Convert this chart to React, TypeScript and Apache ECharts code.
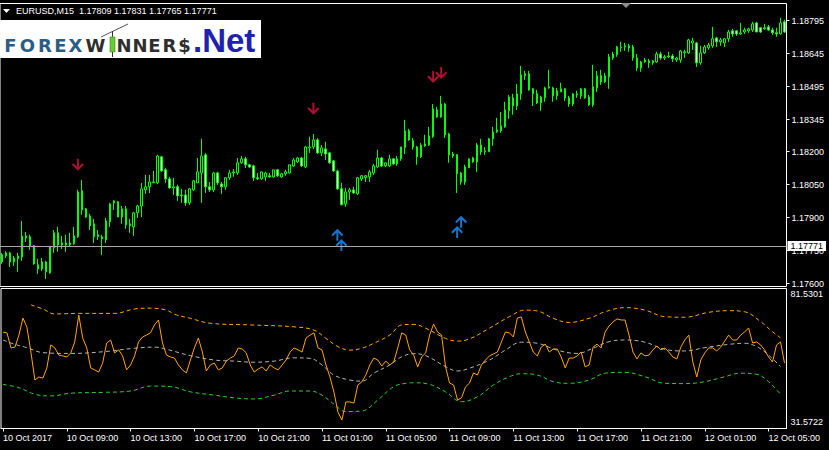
import React, { useEffect, useRef } from 'react';
import * as echarts from 'echarts';

const symbolTitle = 'EURUSD,M15';
const headerOHLC = '1.17809 1.17831 1.17765 1.17771';
const currentPrice = 1.17771;

const xTickLabels = [
  '10 Oct 2017', '10 Oct 09:00', '10 Oct 13:00', '10 Oct 17:00', '10 Oct 21:00',
  '11 Oct 01:00', '11 Oct 05:00', '11 Oct 09:00', '11 Oct 13:00', '11 Oct 17:00',
  '11 Oct 21:00', '12 Oct 01:00', '12 Oct 05:00',
];
const priceTickValues = [1.176, 1.1775, 1.179, 1.1805, 1.182, 1.18345, 1.18495, 1.18645, 1.18795];
const oscTopLabel = 81.5301;
const oscBottomLabel = 31.5722;

const openPrices = [
  1.17731,1.17726,1.17740,1.17699,1.17713,1.17722,1.17808,1.17813,1.17772,1.17686,
  1.17667,1.17699,1.17649,1.17763,1.17831,1.17776,1.17785,1.17776,1.17781,1.17813,
  1.18022,1.17940,1.17908,1.17872,1.17813,1.17813,1.17799,1.17881,1.17967,1.17972,
  1.17903,1.17940,1.17863,1.17858,1.17922,1.17953,1.18026,1.18040,1.18058,1.18058,
  1.18176,1.18117,1.18076,1.18035,1.18040,1.17999,1.18003,1.17967,1.18026,1.18058,
  1.18103,1.18185,1.18040,1.18026,1.18103,1.18053,1.18040,1.18081,1.18103,1.18103,
  1.18149,1.18167,1.18140,1.18135,1.18081,1.18076,1.18085,1.18090,1.18085,1.18117,
  1.18085,1.18099,1.18103,1.18135,1.18153,1.18171,1.18130,1.18217,1.18221,1.18253,
  1.18194,1.18212,1.18194,1.18158,1.18112,1.18031,1.17962,1.18017,1.18026,1.18008,
  1.18076,1.18081,1.18085,1.18103,1.18130,1.18171,1.18135,1.18135,1.18167,1.18144,
  1.18167,1.18217,1.18294,1.18249,1.18221,1.18176,1.18226,1.18230,1.18267,1.18389,
  1.18357,1.18416,1.18280,1.18189,1.18185,1.18103,1.18062,1.18126,1.18171,1.18153,
  1.18230,1.18199,1.18199,1.18258,1.18289,1.18294,1.18312,1.18385,1.18444,1.18407,
  1.18462,1.18544,1.18553,1.18485,1.18462,1.18421,1.18444,1.18489,1.18489,1.18453,
  1.18471,1.18485,1.18416,1.18416,1.18457,1.18453,1.18485,1.18448,1.18412,1.18489,
  1.18544,1.18516,1.18539,1.18625,1.18639,1.18671,1.18675,1.18680,1.18675,1.18625,
  1.18580,1.18607,1.18612,1.18603,1.18607,1.18643,1.18625,1.18630,1.18634,1.18616,
  1.18616,1.18648,1.18648,1.18693,1.18693,1.18603,1.18648,1.18671,1.18680,1.18716,
  1.18698,1.18693,1.18712,1.18748,1.18748,1.18734,1.18743,1.18748,1.18752,1.18784,
  1.18762,1.18757,1.18766,1.18752,1.18739,1.18734,1.18789,
];
const closePrices = [
  1.17699,1.17740,1.17699,1.17717,1.17726,1.17817,1.17817,1.17772,1.17690,1.17667,
  1.17699,1.17654,1.17767,1.17831,1.17776,1.17785,1.17776,1.17785,1.17817,1.18017,
  1.17935,1.17903,1.17863,1.17813,1.17822,1.17804,1.17885,1.17962,1.17976,1.17903,
  1.17940,1.17867,1.17872,1.17922,1.17953,1.18031,1.18040,1.18062,1.18062,1.18180,
  1.18112,1.18076,1.18035,1.18040,1.17999,1.18003,1.17967,1.18031,1.18067,1.18108,
  1.18180,1.18040,1.18026,1.18103,1.18058,1.18040,1.18081,1.18103,1.18108,1.18149,
  1.18167,1.18140,1.18130,1.18081,1.18076,1.18108,1.18103,1.18085,1.18117,1.18090,
  1.18099,1.18108,1.18140,1.18162,1.18171,1.18135,1.18221,1.18221,1.18253,1.18194,
  1.18217,1.18189,1.18149,1.18112,1.18031,1.17958,1.18017,1.18026,1.18012,1.18081,
  1.18090,1.18090,1.18108,1.18135,1.18171,1.18135,1.18149,1.18167,1.18144,1.18167,
  1.18221,1.18294,1.18253,1.18221,1.18176,1.18230,1.18235,1.18271,1.18394,1.18357,
  1.18416,1.18276,1.18185,1.18180,1.18099,1.18062,1.18130,1.18167,1.18153,1.18230,
  1.18199,1.18203,1.18258,1.18289,1.18298,1.18317,1.18389,1.18448,1.18407,1.18462,
  1.18548,1.18553,1.18480,1.18462,1.18421,1.18448,1.18489,1.18494,1.18453,1.18476,
  1.18485,1.18444,1.18444,1.18462,1.18462,1.18485,1.18444,1.18412,1.18494,1.18544,
  1.18516,1.18544,1.18630,1.18643,1.18675,1.18675,1.18680,1.18671,1.18625,1.18580,
  1.18607,1.18616,1.18603,1.18612,1.18643,1.18625,1.18630,1.18634,1.18621,1.18625,
  1.18657,1.18653,1.18707,1.18702,1.18603,1.18648,1.18675,1.18684,1.18712,1.18698,
  1.18707,1.18712,1.18743,1.18734,1.18734,1.18739,1.18752,1.18757,1.18780,1.18743,
  1.18743,1.18762,1.18752,1.18739,1.18734,1.18784,1.18743,
];
const highPrices = [
  1.17740,1.17749,1.17745,1.17726,1.17740,1.17885,1.17835,1.17822,1.17776,1.17713,
  1.17717,1.17704,1.17772,1.17844,1.17858,1.17817,1.17822,1.17831,1.17858,1.18026,
  1.18071,1.17944,1.17917,1.17894,1.17844,1.17822,1.17899,1.17967,1.17981,1.17976,
  1.17953,1.17953,1.17894,1.17926,1.17958,1.18058,1.18094,1.18094,1.18112,1.18185,
  1.18180,1.18126,1.18085,1.18081,1.18049,1.18031,1.18026,1.18035,1.18071,1.18171,
  1.18258,1.18194,1.18062,1.18108,1.18108,1.18062,1.18085,1.18117,1.18121,1.18171,
  1.18180,1.18176,1.18144,1.18140,1.18103,1.18108,1.18108,1.18103,1.18117,1.18121,
  1.18103,1.18117,1.18140,1.18171,1.18176,1.18176,1.18226,1.18267,1.18280,1.18262,
  1.18230,1.18244,1.18199,1.18162,1.18117,1.18058,1.18035,1.18035,1.18040,1.18085,
  1.18094,1.18094,1.18117,1.18144,1.18208,1.18176,1.18149,1.18185,1.18171,1.18180,
  1.18221,1.18344,1.18303,1.18262,1.18226,1.18239,1.18276,1.18312,1.18416,1.18403,
  1.18453,1.18421,1.18285,1.18199,1.18189,1.18108,1.18140,1.18171,1.18176,1.18239,
  1.18258,1.18221,1.18262,1.18312,1.18353,1.18380,1.18426,1.18457,1.18462,1.18507,
  1.18589,1.18566,1.18566,1.18489,1.18480,1.18453,1.18494,1.18571,1.18494,1.18489,
  1.18512,1.18489,1.18453,1.18466,1.18476,1.18489,1.18489,1.18457,1.18594,1.18566,
  1.18571,1.18557,1.18643,1.18653,1.18680,1.18698,1.18693,1.18689,1.18684,1.18643,
  1.18612,1.18625,1.18621,1.18616,1.18653,1.18653,1.18639,1.18653,1.18643,1.18630,
  1.18662,1.18662,1.18712,1.18716,1.18698,1.18680,1.18684,1.18693,1.18766,1.18721,
  1.18716,1.18716,1.18752,1.18757,1.18752,1.18784,1.18762,1.18762,1.18789,1.18789,
  1.18766,1.18780,1.18775,1.18762,1.18762,1.18807,1.18798,
];
const lowPrices = [
  1.17690,1.17717,1.17676,1.17681,1.17654,1.17704,1.17790,1.17754,1.17686,1.17645,
  1.17658,1.17622,1.17645,1.17740,1.17745,1.17758,1.17745,1.17767,1.17776,1.17808,
  1.17913,1.17899,1.17844,1.17785,1.17799,1.17731,1.17785,1.17858,1.17935,1.17903,
  1.17872,1.17849,1.17831,1.17817,1.17899,1.17903,1.18008,1.18012,1.18058,1.18053,
  1.18108,1.18058,1.18031,1.18003,1.17976,1.17967,1.17953,1.17958,1.18022,1.18058,
  1.17967,1.18012,1.18017,1.18017,1.18049,1.18008,1.18026,1.18071,1.18085,1.18094,
  1.18144,1.18126,1.18126,1.18067,1.18071,1.18071,1.18067,1.18081,1.18081,1.18085,
  1.18081,1.18090,1.18099,1.18130,1.18149,1.18130,1.18126,1.18194,1.18212,1.18189,
  1.18180,1.18162,1.18144,1.18108,1.18026,1.17958,1.17949,1.17981,1.18008,1.18003,
  1.18067,1.18062,1.18062,1.18094,1.18126,1.18130,1.18130,1.18130,1.18140,1.18135,
  1.18158,1.18189,1.18249,1.18208,1.18140,1.18171,1.18221,1.18226,1.18262,1.18353,
  1.18353,1.18262,1.18149,1.18171,1.18012,1.18049,1.18049,1.18126,1.18149,1.18108,
  1.18185,1.18185,1.18199,1.18226,1.18285,1.18285,1.18308,1.18348,1.18367,1.18389,
  1.18435,1.18525,1.18476,1.18407,1.18416,1.18385,1.18426,1.18485,1.18426,1.18435,
  1.18471,1.18430,1.18403,1.18407,1.18444,1.18439,1.18439,1.18407,1.18403,1.18471,
  1.18503,1.18512,1.18485,1.18616,1.18630,1.18653,1.18657,1.18653,1.18612,1.18566,
  1.18562,1.18603,1.18580,1.18594,1.18603,1.18616,1.18616,1.18625,1.18607,1.18607,
  1.18603,1.18625,1.18643,1.18662,1.18584,1.18594,1.18643,1.18662,1.18671,1.18675,
  1.18680,1.18675,1.18698,1.18721,1.18725,1.18730,1.18734,1.18739,1.18743,1.18743,
  1.18739,1.18752,1.18748,1.18730,1.18721,1.18730,1.18739,
];

const oscValues = [
  66.2,65.9,60.4,60.7,65.1,71.3,68.0,58.9,48.7,49.8,
  49.4,53.1,61.5,60.4,57.8,57.5,57.1,58.6,62.6,72.4,
  64.0,60.4,53.1,52.4,51.6,54.9,62.2,63.3,58.6,59.7,
  57.5,52.4,54.2,57.5,62.6,64.4,65.1,65.9,68.8,70.6,
  62.2,57.8,57.1,56.7,54.2,52.4,51.3,56.0,60.4,64.0,
  58.9,52.0,54.2,54.9,52.4,53.1,55.6,56.7,57.5,60.4,
  60.0,58.6,54.2,51.6,52.7,53.5,52.0,54.2,53.1,52.4,
  54.2,56.0,58.9,60.4,59.7,58.9,64.0,65.1,65.9,60.4,
  59.7,54.2,49.8,44.3,37.0,34.1,40.7,40.7,40.3,46.9,
  48.0,50.5,54.2,56.7,56.0,53.8,55.6,54.2,55.3,60.4,
  65.9,65.1,59.7,57.8,53.5,57.1,58.6,65.1,69.1,66.2,
  65.1,53.5,47.6,46.9,41.4,42.2,46.2,47.6,51.3,50.5,
  54.2,56.0,57.5,58.2,58.9,62.6,66.2,65.9,64.4,71.3,
  71.7,66.2,62.6,58.9,57.5,60.7,61.8,58.9,60.0,60.0,
  57.1,53.1,56.7,56.7,57.5,58.9,53.5,54.2,60.7,61.8,
  60.4,66.2,68.4,69.9,71.0,70.6,70.6,65.1,58.9,56.4,
  58.6,57.5,57.8,59.7,61.1,59.7,60.4,58.9,57.1,56.4,
  60.7,63.3,65.1,55.3,49.8,56.0,58.6,60.4,60.4,59.3,
  60.7,62.9,65.1,63.3,63.3,65.1,66.2,67.7,62.2,62.6,
  61.5,59.7,57.1,55.3,61.5,62.6,54.9,
];

const upperBand = [
  [7,76.1],[10,74.6],[13,72.8],[19,73.0],[28,73.0],[33,74.6],[37,74.9],[41,74.2],[43,72.7],
  [47,71.2],[52,69.4],[62,68.8],[73,68.1],[78,66.9],[81,63.9],[84,60.9],[87,59.6],[90,60.3],
  [93,62.1],[97,65.1],[100,68.8],[103,69.0],[106,67.6],[111,63.9],[114,62.9],[117,63.7],
  [122,67.6],[127,71.8],[131,74.2],[134,73.9],[138,71.2],[142,69.7],[147,71.2],[151,73.6],
  [156,75.1],[161,74.2],[166,71.8],[171,71.6],[177,73.4],[182,74.0],[186,73.6],[190,70.0],
  [193,66.3],[195,64.1],
];
const middleBand = [
  [0,63.3],[3,61.7],[6,60.5],[10,58.7],[17,58.4],[25,59.0],[33,60.3],[38,60.7],[41,59.9],
  [47,57.6],[53,56.0],[58,55.6],[63,55.2],[68,55.6],[73,56.8],[77,56.6],[80,54.2],[83,50.5],
  [87,48.7],[90,48.3],[93,51.2],[97,54.2],[100,57.2],[103,58.3],[106,57.6],[111,53.6],
  [114,52.0],[117,53.0],[122,56.0],[126,59.6],[130,62.5],[134,62.1],[139,59.6],[144,58.4],
  [148,60.3],[152,62.7],[156,63.3],[161,62.5],[166,59.9],[171,59.3],[176,60.5],[182,61.7],
  [186,62.1],[189,60.9],[192,57.8],[195,53.6],
];
const lowerBand = [
  [0,47.1],[4,45.9],[8,43.5],[12,42.9],[17,43.9],[25,44.2],[32,44.7],[37,46.5],[42,46.3],
  [47,44.4],[53,43.2],[58,42.2],[63,41.8],[68,43.2],[72,44.7],[77,44.7],[80,43.2],[83,39.9],
  [86,37.2],[90,37.4],[94,41.4],[98,46.3],[101,47.5],[103,47.7],[107,47.1],[111,44.4],
  [115,40.8],[119,42.6],[123,46.9],[127,49.9],[130,51.0],[134,50.5],[138,48.1],[142,47.5],
  [147,48.7],[151,51.2],[156,51.5],[161,49.9],[166,47.5],[171,47.4],[176,48.1],[181,49.9],
  [185,51.2],[189,50.8],[192,48.1],[195,43.5],
];

const sellArrows = [[19, 1.18140], [78, 1.18394], [108, 1.18539], [110, 1.18557]];
const buyArrows = [[84, 1.17822], [85, 1.17776], [114, 1.17835], [115, 1.17881]];

// logo letters: [character, centre x, colour]
const logoLetters: [string, number, string][] = [
  ['F', 10.5, '#2a5d86'], ['O', 27.5, '#2a5d86'], ['R', 45, '#2a5d86'], ['E', 60.5, '#2a5d86'], ['X', 75.5, '#2a5d86'],
  ['W', 95.5, '#2e2e2e'], ['N', 124, '#2e2e2e'], ['N', 140, '#2e2e2e'], ['E', 154.5, '#2e2e2e'],
  ['R', 169.5, '#2e2e2e'], ['$', 184.5, '#2e2e2e'],
];

const DOWN_ARROW = 'path://M5,0 L7,0 L7,8 L10.5,4.5 L12,6 L6,12 L0,6 L1.5,4.5 L5,8 Z';
const UP_ARROW = 'path://M5,12 L7,12 L7,4 L10.5,7.5 L12,6 L6,0 L0,6 L1.5,7.5 L5,4 Z';

const MONTHS = ['Jan','Feb','Mar','Apr','May','Jun','Jul','Aug','Sep','Oct','Nov','Dec'];

export default function App() {
  const ref = useRef<HTMLDivElement>(null);
  useEffect(() => {
    const chart = echarts.init(ref.current as HTMLDivElement, null, { renderer: 'svg' });
    const t0 = Date.UTC(2017, 9, 10, 5, 0);
    const categories = openPrices.map((_, i) => {
      const d = new Date(t0 + i * 15 * 60000);
      const hh = String(d.getUTCHours()).padStart(2, '0');
      const mm = String(d.getUTCMinutes()).padStart(2, '0');
      return `${d.getUTCDate()} ${MONTHS[d.getUTCMonth()]} ${hh}:${mm}`;
    });
    const candles = openPrices.map((o, i) => [o, closePrices[i], lowPrices[i], highPrices[i]]);
    const font = 'Liberation Sans';
    const gridLeft = -1.5;
    const gridWidth = 788;

    const logoChildren: any[] = [
      { type: 'rect', shape: { x: 0, y: 20, width: 261, height: 38 }, style: { fill: '#fff' } },
      ...logoLetters.map(([ch, cx, col]) => ({
        type: 'text', x: cx, y: 54,
        style: { text: ch, fill: col, fontSize: 18, fontWeight: 'bold', fontFamily: 'DejaVu Sans', align: 'center', verticalAlign: 'bottom' },
      })),
      { type: 'line', shape: { x1: 101, y1: 37, x2: 128, y2: 24 }, style: { stroke: '#555', lineWidth: 1 } },
      { type: 'line', shape: { x1: 112.5, y1: 31, x2: 112.5, y2: 57 }, style: { stroke: '#333', lineWidth: 1 } },
      { type: 'rect', shape: { x: 110, y: 37, width: 5, height: 15 }, style: { fill: '#66cc33', stroke: '#3a8a1a', lineWidth: 0.6 } },
      {
        type: 'text', x: 193, y: 57,
        style: { text: '.Net', fill: '#1f22b0', fontSize: 33, fontWeight: 'bold', fontFamily: font, verticalAlign: 'bottom' },
      },
    ];

    const option: any = {
      animation: false,
      backgroundColor: '#000',
      grid: [
        { left: gridLeft, width: gridWidth, top: 3.5, height: 283, show: true, borderColor: '#fff', borderWidth: 1 },
        { left: gridLeft, width: gridWidth, top: 288.5, height: 140, show: true, borderColor: '#fff', borderWidth: 1 },
      ],
      xAxis: [
        {
          type: 'category', gridIndex: 0, data: categories, boundaryGap: true,
          axisLine: { show: false }, axisTick: { show: false }, axisLabel: { show: false }, splitLine: { show: false },
        },
        {
          type: 'category', gridIndex: 1, data: categories, boundaryGap: true,
          axisLine: { show: true, lineStyle: { color: '#fff', width: 1 } },
          axisTick: { show: true, alignWithLabel: true, interval: 15, length: 3, lineStyle: { color: '#fff' } },
          axisLabel: {
            interval: 15, color: '#fff', fontSize: 9, fontFamily: font, align: 'left', margin: 5,
            formatter: (_v: string, idx: number) => (idx % 16 === 0 ? xTickLabels[idx / 16] ?? '' : ''),
          },
          splitLine: { show: false },
        },
      ],
      yAxis: [
        {
          type: 'value', gridIndex: 0, position: 'right', min: 1.175874, max: 1.188722,
          axisLine: { show: false }, splitLine: { show: false },
          axisTick: { show: true, customValues: priceTickValues, length: 3, lineStyle: { color: '#fff' } },
          axisLabel: {
            customValues: priceTickValues, color: '#fff', fontSize: 9, fontFamily: font, margin: 5,
            formatter: (v: number) => v.toFixed(5),
          },
        },
        {
          type: 'value', gridIndex: 1, position: 'right', min: 31.025, max: 82.077,
          axisLine: { show: false }, splitLine: { show: false }, axisTick: { show: false },
          axisLabel: {
            customValues: [oscTopLabel], color: '#fff', fontSize: 9, fontFamily: font, margin: 4,
            verticalAlign: 'top', formatter: (v: number) => v.toFixed(4),
          },
        },
        {
          type: 'value', gridIndex: 1, position: 'right', min: 31.025, max: 82.077,
          axisLine: { show: false }, splitLine: { show: false }, axisTick: { show: false },
          axisLabel: {
            customValues: [oscBottomLabel], color: '#fff', fontSize: 9, fontFamily: font, margin: 4,
            verticalAlign: 'bottom', formatter: (v: number) => v.toFixed(4),
          },
        },
      ],
      series: [
        {
          type: 'candlestick', xAxisIndex: 0, yAxisIndex: 0, data: candles, barWidth: 2,
          itemStyle: { color: '#000', color0: '#fff', borderColor: '#00ff00', borderColor0: '#00ff00', borderWidth: 1 },
        },
        {
          type: 'scatter', xAxisIndex: 0, yAxisIndex: 0, data: sellArrows, symbol: DOWN_ARROW,
          symbolSize: [12, 12], itemStyle: { color: '#dc143c' }, silent: true, z: 3,
          markLine: {
            silent: true, symbol: 'none', animation: false, precision: 5,
            lineStyle: { color: '#a8a8a8', width: 1, type: 'solid' },
            label: {
              show: true, position: 'end', distance: 1, formatter: currentPrice.toFixed(5),
              backgroundColor: '#fff', color: '#000', fontSize: 9, fontFamily: font, padding: [1, 3, 0, 3],
            },
            data: [{ yAxis: currentPrice }],
          },
        },
        {
          type: 'scatter', xAxisIndex: 0, yAxisIndex: 0, data: buyArrows, symbol: UP_ARROW,
          symbolSize: [12, 12], itemStyle: { color: '#1e90ff' }, silent: true, z: 3,
        },
        {
          type: 'line', xAxisIndex: 1, yAxisIndex: 1, data: upperBand, smooth: 0.4, showSymbol: false,
          lineStyle: { color: '#ffa500', width: 1, type: [4, 3] }, silent: true,
        },
        {
          type: 'line', xAxisIndex: 1, yAxisIndex: 1, data: middleBand, smooth: 0.4, showSymbol: false,
          lineStyle: { color: '#b4b4b4', width: 1, type: [4, 3] }, silent: true,
        },
        {
          type: 'line', xAxisIndex: 1, yAxisIndex: 1, data: lowerBand, smooth: 0.4, showSymbol: false,
          lineStyle: { color: '#32cd32', width: 1, type: [4, 3] }, silent: true,
        },
        {
          type: 'line', xAxisIndex: 1, yAxisIndex: 1, data: oscValues, showSymbol: false,
          lineStyle: { color: '#ffa500', width: 1 }, silent: true,
        },
      ],
      graphic: [
        { type: 'polygon', shape: { points: [[3, 9], [10, 9], [6.5, 13]] }, style: { fill: '#fff' } },
        {
          type: 'text', x: 16, y: 11,
          style: { text: `${symbolTitle}  ${headerOHLC}`, fill: '#fff', fontSize: 9, fontFamily: font, verticalAlign: 'middle' },
        },
        { type: 'polygon', shape: { points: [[621, 3], [631, 3], [626, 8]] }, style: { fill: '#8c8c8c' } },
        { type: 'group', children: logoChildren },
      ],
    };
    chart.setOption(option);
    return () => chart.dispose();
  }, []);
  return <div ref={ref} style={{ position: 'fixed', left: 0, top: 0, width: 829, height: 450, background: '#000' }} />;
}
